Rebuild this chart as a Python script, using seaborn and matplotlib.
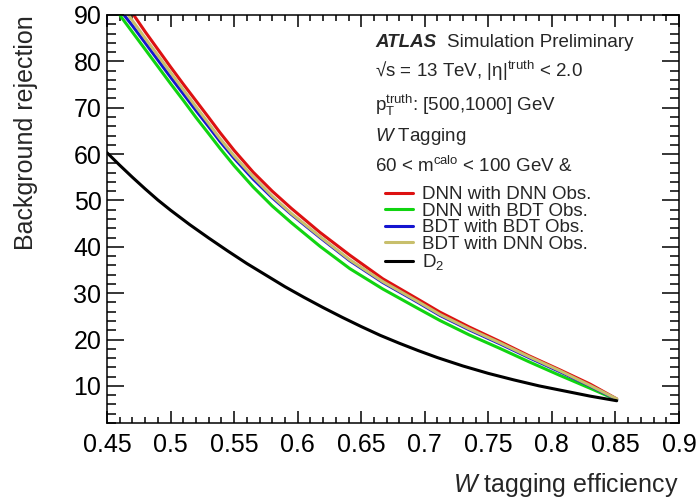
import matplotlib
matplotlib.use("Agg")
import matplotlib.pyplot as plt
import seaborn as sns
import numpy as np
from matplotlib.ticker import MultipleLocator, FixedLocator

# curves (x = W tagging efficiency, y = background rejection)
dnn_dnn_x = [0.471, 0.480, 0.490, 0.500, 0.510, 0.520, 0.530, 0.539, 0.550, 0.565, 0.580, 0.595, 0.6176, 0.641, 0.667, 0.694, 0.712, 0.735, 0.759, 0.782, 0.806, 0.830, 0.851]
dnn_dnn_y = [90, 86.4, 82.6, 78.8, 75.1, 71.5, 67.9, 64.6, 60.8, 56.1, 52.0, 48.3, 43.1, 38.2, 33.1, 28.8, 25.9, 22.7, 19.6, 16.5, 13.5, 10.4, 7.2]

dnn_bdt_x = [0.460, 0.470, 0.480, 0.490, 0.500, 0.510, 0.520, 0.530, 0.539, 0.550, 0.565, 0.580, 0.595, 0.6176, 0.641, 0.667, 0.694, 0.712, 0.735, 0.759, 0.782, 0.806, 0.830, 0.851]
dnn_bdt_y = [90, 86.3, 82.6, 78.9, 75.2, 71.6, 67.9, 64.4, 61.2, 57.5, 52.9, 48.8, 45.2, 40.1, 35.3, 30.9, 26.8, 24.1, 21.0, 18.1, 15.2, 12.3, 9.5, 7.0]

bdt_bdt_x = [0.4634, 0.470, 0.480, 0.490, 0.500, 0.510, 0.520, 0.530, 0.539, 0.550, 0.565, 0.580, 0.595, 0.6176, 0.641, 0.667, 0.694, 0.712, 0.735, 0.759, 0.782, 0.806, 0.830, 0.851]
bdt_bdt_y = [90, 87.7, 84.0, 80.3, 76.6, 73.0, 69.4, 65.9, 62.7, 59.1, 54.6, 50.6, 47.0, 42.0, 37.0, 32.3, 28.1, 25.2, 22.1, 19.1, 16.1, 13.1, 10.0, 7.1]

bdt_dnn_x = [0.4668, 0.480, 0.490, 0.500, 0.510, 0.520, 0.530, 0.539, 0.550, 0.565, 0.580, 0.595, 0.6176, 0.641, 0.667, 0.694, 0.712, 0.735, 0.759, 0.782, 0.806, 0.830, 0.851]
bdt_dnn_y = [90, 85.0, 81.3, 77.6, 73.9, 70.2, 66.6, 63.3, 59.6, 55.1, 50.9, 47.2, 42.2, 37.2, 32.5, 28.3, 25.4, 22.3, 19.3, 16.3, 13.3, 10.1, 7.2]

d2_x = [0.450, 0.460, 0.470, 0.480, 0.490, 0.500, 0.515, 0.530, 0.545, 0.560, 0.575, 0.590, 0.605, 0.620, 0.635, 0.650, 0.665, 0.680, 0.695, 0.710, 0.730, 0.750, 0.770, 0.790, 0.810, 0.830, 0.851]
d2_y = [60.3, 57.6, 55.0, 52.5, 50.1, 47.9, 44.8, 41.9, 39.1, 36.4, 33.9, 31.4, 29.1, 26.9, 24.8, 22.8, 20.9, 19.2, 17.6, 16.1, 14.3, 12.7, 11.3, 10.0, 8.9, 7.8, 6.8]

labels = ["DNN with DNN Obs.", "DNN with BDT Obs.", "BDT with BDT Obs.", "BDT with DNN Obs.", "D$_2$"]
colors = ["#dd1111", "#11d411", "#1515d0", "#c8bf6c", "black"]
xtick_vals = [0.45, 0.5, 0.55, 0.6, 0.65, 0.7, 0.75, 0.8, 0.85, 0.9]
xtick_labels = ["0.45", "0.5", "0.55", "0.6", "0.65", "0.7", "0.75", "0.8", "0.85", "0.9"]
ytick_vals = [10, 20, 30, 40, 50, 60, 70, 80, 90]

sns.set_style("ticks")
plt.rcParams['font.family'] = ['Liberation Sans', 'DejaVu Sans']
plt.rcParams['mathtext.fontset'] = 'custom'
plt.rcParams['mathtext.rm'] = 'Liberation Sans'
plt.rcParams['mathtext.it'] = 'Liberation Sans:italic'
plt.rcParams['mathtext.bf'] = 'Liberation Sans:bold'
plt.rcParams.update({
    'xtick.direction': 'in', 'ytick.direction': 'in',
    'xtick.top': True, 'ytick.right': True,
    'xtick.color': 'black', 'ytick.color': 'black',
    'xtick.major.size': 8.8, 'xtick.minor.size': 4.4,
    'ytick.major.size': 12.3, 'ytick.minor.size': 6.2,
    'xtick.major.width': 1.1, 'xtick.minor.width': 1.1,
    'ytick.major.width': 1.1, 'ytick.minor.width': 1.1,
    'xtick.minor.visible': True, 'ytick.minor.visible': True,
})

fig = plt.figure(figsize=(6.98, 5.01), dpi=100)
ax = fig.add_axes([107/698, 1-423/501, 572/698, 408/501])

series = [(dnn_dnn_x, dnn_dnn_y), (dnn_bdt_x, dnn_bdt_y), (bdt_bdt_x, bdt_bdt_y),
          (bdt_dnn_x, bdt_dnn_y), (d2_x, d2_y)]
for (xs, ys), lab, col in zip(series, labels, colors):
    sns.lineplot(x=xs, y=ys, color=col, label=lab, lw=2.2, ax=ax)

ax.set_xlim(0.45, 0.9)
ax.set_ylim(2, 90)
ax.xaxis.set_major_locator(FixedLocator(xtick_vals))
ax.xaxis.set_minor_locator(MultipleLocator(0.01))
ax.yaxis.set_major_locator(FixedLocator(ytick_vals))
ax.yaxis.set_minor_locator(MultipleLocator(2))
ax.set_xticklabels(xtick_labels)

ax.tick_params(which='both', direction='in', top=True, right=True, bottom=True, left=True,
               labelsize=18, color='black')
ax.tick_params(axis='x', which='major', pad=7)
ax.tick_params(axis='y', which='major', pad=4)
for s in ax.spines.values():
    s.set_linewidth(1.1)
    s.set_color('black')

ax.set_xlabel(r"$\mathit{W}$ tagging efficiency", fontsize=18, loc='right')
ax.set_ylabel("Background rejection", fontsize=18, loc='top')
ax.xaxis.set_label_coords(1.0, -0.118)
ax.yaxis.set_label_coords(-0.1206, 1.0)

leg = ax.legend(loc='upper left', bbox_to_anchor=((385-107)/572, (423-186)/408), frameon=False,
                fontsize=13.5, handlelength=1.5, handletextpad=0.45, labelspacing=-0.03,
                borderpad=0, borderaxespad=0)

tx = 375/698
def fy(b):
    return 1 - b/501
fig.text(tx, fy(46.7), "ATLAS", fontsize=13.5, fontweight='bold', fontstyle='italic', va='baseline')
fig.text(447/698, fy(46.7), "Simulation Preliminary", fontsize=13.5, va='baseline')
fig.text(tx, fy(77.3), r"√s = 13 TeV, |η|$^{\mathrm{truth}}$ < 2.0", fontsize=13.5, va='baseline')
fig.text(tx, fy(110.7), r"p$_{\mathrm{T}}^{\mathrm{truth}}$: [500,1000] GeV", fontsize=13.5, va='baseline')
fig.text(tx, fy(140.7), r"$\mathit{W}$ Tagging", fontsize=13.5, va='baseline')
fig.text(tx, fy(171.7), r"60 < m$^{\mathrm{calo}}$ < 100 GeV &", fontsize=13.5, va='baseline')

fig.savefig("out.png", dpi=100)
